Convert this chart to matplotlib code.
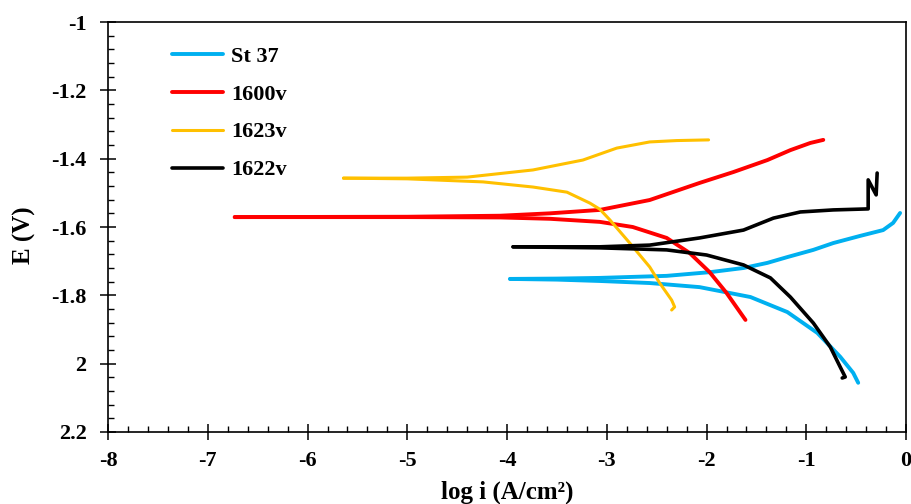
import matplotlib
matplotlib.use("Agg")
import matplotlib.pyplot as plt
from matplotlib.ticker import MultipleLocator

plt.rcParams['font.family'] = ['Liberation Serif', 'DejaVu Serif']
plt.rcParams['font.weight'] = 'bold'

# Tafel curves: each sample has an anodic and a cathodic branch, log i vs E
st37_an_x = [-3.97, -3.5, -3.07, -2.40, -1.96, -1.63, -1.39, -1.19, -0.93, -0.73, -0.46, -0.23, -0.13, -0.06]
st37_an_y = [-1.752, -1.751, -1.749, -1.743, -1.732, -1.720, -1.705, -1.688, -1.667, -1.647, -1.626, -1.609, -1.588, -1.559]
st37_ca_x = [-3.97, -3.5, -3.07, -2.57, -2.07, -1.56, -1.19, -0.89, -0.66, -0.53, -0.48]
st37_ca_y = [-1.752, -1.754, -1.758, -1.764, -1.776, -1.805, -1.849, -1.910, -1.980, -2.027, -2.056]

v1600_an_x = [-6.73, -5.0, -4.07, -3.57, -3.07, -2.57, -2.07, -1.73, -1.39, -1.16, -0.96, -0.83]
v1600_an_y = [-1.571, -1.570, -1.567, -1.560, -1.550, -1.521, -1.471, -1.439, -1.404, -1.375, -1.354, -1.345]
v1600_ca_x = [-6.73, -5.0, -4.07, -3.57, -3.07, -2.74, -2.40, -2.17, -1.97, -1.80, -1.61]
v1600_ca_y = [-1.571, -1.571, -1.572, -1.576, -1.585, -1.600, -1.632, -1.676, -1.732, -1.793, -1.872]

v1623_an_x = [-5.64, -5.0, -4.40, -3.74, -3.24, -2.90, -2.57, -2.30, -1.98]
v1623_an_y = [-1.457, -1.457, -1.454, -1.433, -1.404, -1.369, -1.351, -1.347, -1.345]
v1623_ca_x = [-5.64, -5.0, -4.24, -3.74, -3.40, -3.17, -3.07, -2.97, -2.77, -2.57, -2.47, -2.35, -2.32, -2.35]
v1623_ca_y = [-1.457, -1.459, -1.468, -1.483, -1.498, -1.530, -1.548, -1.579, -1.647, -1.717, -1.764, -1.814, -1.834, -1.843]

v1622_an_x = [-3.94, -3.5, -3.07, -2.57, -2.07, -1.63, -1.33, -1.06, -0.73, -0.38, -0.38, -0.30, -0.29]
v1622_an_y = [-1.658, -1.658, -1.658, -1.653, -1.632, -1.609, -1.574, -1.556, -1.550, -1.547, -1.462, -1.506, -1.442]
v1622_ca_x = [-3.94, -3.07, -2.40, -2.00, -1.63, -1.36, -1.16, -0.93, -0.76, -0.66, -0.61, -0.64]
v1622_ca_y = [-1.658, -1.661, -1.667, -1.682, -1.711, -1.749, -1.805, -1.881, -1.951, -2.010, -2.039, -2.042]

xticks = [-8, -7, -6, -5, -4, -3, -2, -1, 0]
xtick_labels = ['-8', '-7', '-6', '-5', '-4', '-3', '-2', '-1', '0']
yticks = [-1, -1.2, -1.4, -1.6, -1.8, -2.0, -2.2]
ytick_labels = ['-1', '-1.2', '-1.4', '-1.6', '-1.8', '2', '2.2']

fig = plt.figure(figsize=(9.11, 5.04), dpi=100)
ax = fig.add_axes([0.1186, 0.1429, 0.876, 0.8134])

series = [
    ('St 37', st37_an_x, st37_an_y, st37_ca_x, st37_ca_y, '#00B0F0', 2.8),
    ('1600v', v1600_an_x, v1600_an_y, v1600_ca_x, v1600_ca_y, '#FF0000', 2.8),
    ('1623v', v1623_an_x, v1623_an_y, v1623_ca_x, v1623_ca_y, '#FFC000', 2.2),
    ('1622v', v1622_an_x, v1622_an_y, v1622_ca_x, v1622_ca_y, '#000000', 2.6),
]
for name, ax_, ay, cx, cy, col, lw in series:
    ax.plot(ax_, ay, color=col, lw=lw, label=name, solid_capstyle='round')
    ax.plot(cx, cy, color=col, lw=lw, solid_capstyle='round')

ax.set_xlim(-8, 0)
ax.set_ylim(-2.2, -1)
ax.set_xticks(xticks, labels=xtick_labels)
ax.set_yticks(yticks, labels=ytick_labels)
ax.xaxis.set_minor_locator(MultipleLocator(0.2))
ax.yaxis.set_minor_locator(MultipleLocator(0.04))
ax.tick_params(which='major', direction='inout', length=11, width=1.1, labelsize=16)
ax.tick_params(which='minor', direction='in', length=4, width=1.0)
ax.tick_params(axis='x', pad=8)
ax.tick_params(axis='y', pad=10)
for s in ax.spines.values():
    s.set_linewidth(1.2)

ax.set_xlabel('log i (A/cm²)', fontsize=18, fontweight='bold')
ax.set_ylabel('E (V)', fontsize=18, fontweight='bold')
ax.xaxis.set_label_coords(0.5, -0.118)
ax.yaxis.set_label_coords(-0.09, 0.48)

ax.legend(loc='upper left', bbox_to_anchor=(0.055, 0.99), frameon=False,
          fontsize=16, handlelength=2.3, handletextpad=0.35, labelspacing=0.78)

fig.savefig('out.png', dpi=100)
